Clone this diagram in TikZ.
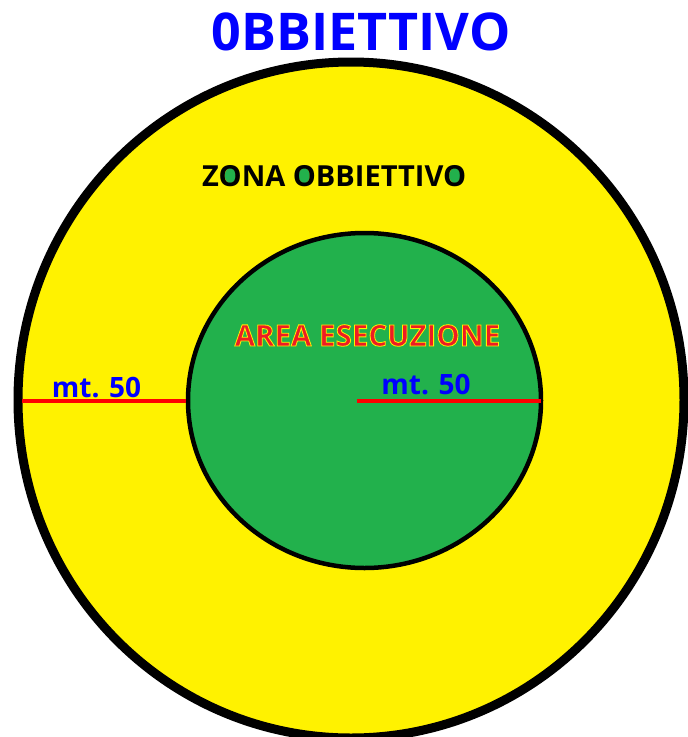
\documentclass[tikz,border=0pt]{standalone}
\usepackage{fontspec}
\setmainfont{Open Sans}
\usepackage{xcolor}
\usepackage{tikz}
\usetikzlibrary{positioning}

\definecolor{zonayellow}{RGB}{255,242,0}
\definecolor{areagreen}{RGB}{34,177,76}
\definecolor{areared}{RGB}{237,28,36}
\definecolor{titleblue}{RGB}{0,0,255}

\pgfdeclarelayer{fondo}
\pgfdeclarelayer{punti}
\pgfsetlayers{fondo,punti,main}

\newcommand{\zonafont}{\bfseries\fontsize{29}{29}\selectfont}
% yellow rim round the red letters
\newcommand{\bordogiallo}[1]{\special{pdf:literal direct 1 0.949 0 RG 0.8 w 2 Tr}#1\special{pdf:literal direct 0 Tr}}
\newlength{\zonaA}\newlength{\zonaB}\newlength{\zonaC}\newlength{\zonaO}

\tikzset{
    titolo/.style={inner sep=0pt, text=titleblue, font=\bfseries\fontsize{52}{52}\selectfont},
    zona/.style={inner sep=0pt, text=black, font=\zonafont},
    area/.style={inner sep=0pt, text=areared, font=\bfseries\fontsize{29.5}{29.5}\selectfont},
    metri/.style={inner sep=0pt, text=titleblue, font=\bfseries\fontsize{28}{28}\selectfont},
    misura/.style={red, line width=4pt},
    foro/.style={areagreen, x radius=5.5, y radius=7.5}
}

\begin{document}
% centres of the three O's of ZONA OBBIETTIVO
\settowidth{\zonaO}{\zonafont O}
\settowidth{\zonaA}{\zonafont Z}\addtolength{\zonaA}{0.5\zonaO}
\settowidth{\zonaB}{\zonafont ZONA }\addtolength{\zonaB}{0.5\zonaO}
\settowidth{\zonaC}{\zonafont ZONA OBBIETTIV}\addtolength{\zonaC}{0.5\zonaO}
\begin{tikzpicture}[x=1pt, y=-1pt]
    \useasboundingbox (0,0) rectangle (688,737);
    \coordinate (O) at (351,400);
    \coordinate (C) at (364.5,400.5);
    \begin{pgfonlayer}{fondo}
        \clip (0,0) rectangle (688,737);
        \draw[line width=9pt, fill=zonayellow] (O) ellipse [x radius=333, y radius=338];
        \draw[line width=4.5pt, fill=areagreen] (C) ellipse [x radius=176.5, y radius=167.5];
    \end{pgfonlayer}
    % misure
    \coordinate (L1) at (22,401);
    \coordinate (L2) at (186,401);
    \coordinate (R1) at (357,401);
    \coordinate (R2) at (541,401);
    \draw[misura] (L1) -- (L2);
    \draw[misura] (R1) -- (R2);
    \node[metri, anchor=base] (mtL) at (96.5,397) {mt. 50};
    \node[metri, anchor=base] (mtR) at (426,394) {mt. 50};
    % titolo
    \node[titolo, anchor=base] (titolo) at (361,50) {0BBIETTIVO};
    % zona obbiettivo, with green inside the O's
    \node[zona, anchor=base west] (zona) at (202,186) {ZONA OBBIETTIVO};
    \coordinate (zO1) at ([xshift=\zonaA, yshift=10.4pt]zona.base west);
    \coordinate (zO2) at ([xshift=\zonaB, yshift=10.4pt]zona.base west);
    \coordinate (zO3) at ([xshift=\zonaC, yshift=10.4pt]zona.base west);
    \begin{pgfonlayer}{punti}
        \fill[foro] (zO1) ellipse [];
        \fill[foro] (zO2) ellipse [];
        \fill[foro] (zO3) ellipse [];
    \end{pgfonlayer}
    % area esecuzione
    \node[area, anchor=base] (area) at (367.5,346) {\bordogiallo{AREA ESECUZIONE}};
\end{tikzpicture}
\end{document}
